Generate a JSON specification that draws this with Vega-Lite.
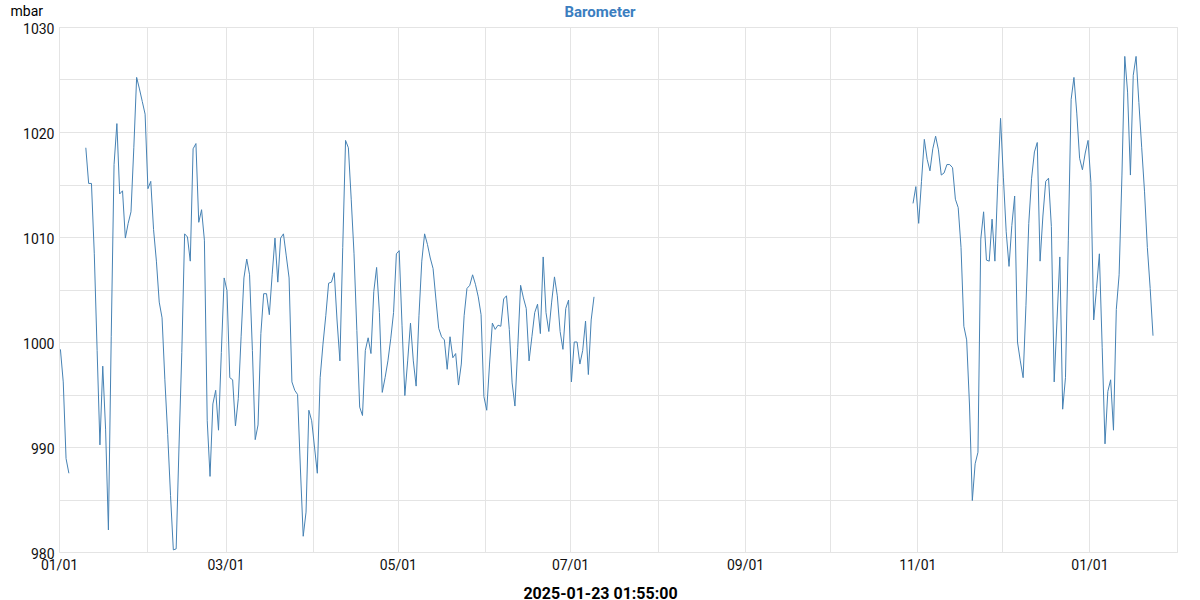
{
  "$schema": "https://vega.github.io/schema/vega-lite/v6.json",
  "autosize": "none",
  "width": 1118,
  "height": 525,
  "padding": {"left": 59, "top": 27, "right": 23, "bottom": 48},
  "background": "white",
  "title": {"text": "Barometer", "anchor": "middle", "frame": "group", "dx": -18, "dy": 25, "offset": 9, "font": "Roboto", "fontSize": 15, "fontWeight": "bold", "color": "#3b7ebf"},
  "config": {
    "view": {"stroke": "#e4e4e4"},
    "font": "Roboto"
  },
  "data": {"values": [
    {"t":"2025-01-01T12:00","v":999.3},{"t":"2025-01-02T12:00","v":996.2},{"t":"2025-01-03T12:00","v":988.9},{"t":"2025-01-04T12:00","v":987.5},
    {"t":"2025-01-07T12:00","v":null},
    {"t":"2025-01-10T12:00","v":1018.5},{"t":"2025-01-11T12:00","v":1015.1},{"t":"2025-01-12T12:00","v":1015.1},{"t":"2025-01-13T12:00","v":1008.4},{"t":"2025-01-14T12:00","v":999.2},{"t":"2025-01-15T12:00","v":990.2},{"t":"2025-01-16T12:00","v":997.7},{"t":"2025-01-17T12:00","v":991.7},{"t":"2025-01-18T12:00","v":982.1},{"t":"2025-01-19T12:00","v":1000.5},{"t":"2025-01-20T12:00","v":1016.9},{"t":"2025-01-21T12:00","v":1020.8},{"t":"2025-01-22T12:00","v":1014.1},{"t":"2025-01-23T12:00","v":1014.4},{"t":"2025-01-24T12:00","v":1009.9},{"t":"2025-01-25T12:00","v":1011.3},{"t":"2025-01-26T12:00","v":1012.4},{"t":"2025-01-27T12:00","v":1018.5},{"t":"2025-01-28T12:00","v":1025.2},{"t":"2025-01-29T12:00","v":1024.1},{"t":"2025-01-30T12:00","v":1022.9},{"t":"2025-01-31T12:00","v":1021.7},
    {"t":"2025-02-01T12:00","v":1014.6},{"t":"2025-02-02T12:00","v":1015.3},{"t":"2025-02-03T12:00","v":1010.7},{"t":"2025-02-04T12:00","v":1007.7},{"t":"2025-02-05T12:00","v":1003.8},{"t":"2025-02-06T12:00","v":1002.3},{"t":"2025-02-07T12:00","v":996.4},{"t":"2025-02-08T12:00","v":991.2},{"t":"2025-02-09T12:00","v":985.4},{"t":"2025-02-10T12:00","v":980.2},{"t":"2025-02-11T12:00","v":980.3},{"t":"2025-02-12T12:00","v":990.0},{"t":"2025-02-13T12:00","v":999.0},{"t":"2025-02-14T12:00","v":1010.3},{"t":"2025-02-15T12:00","v":1010.0},{"t":"2025-02-16T12:00","v":1007.7},{"t":"2025-02-17T12:00","v":1018.4},{"t":"2025-02-18T12:00","v":1018.9},{"t":"2025-02-19T12:00","v":1011.4},{"t":"2025-02-20T12:00","v":1012.6},{"t":"2025-02-21T12:00","v":1009.7},{"t":"2025-02-22T12:00","v":992.5},{"t":"2025-02-23T12:00","v":987.2},{"t":"2025-02-24T12:00","v":994.1},{"t":"2025-02-25T12:00","v":995.4},{"t":"2025-02-26T12:00","v":991.6},{"t":"2025-02-27T12:00","v":999.0},{"t":"2025-02-28T12:00","v":1006.1},
    {"t":"2025-03-01T12:00","v":1004.9},{"t":"2025-03-02T12:00","v":996.6},{"t":"2025-03-03T12:00","v":996.4},{"t":"2025-03-04T12:00","v":992.0},{"t":"2025-03-05T12:00","v":994.6},{"t":"2025-03-06T12:00","v":1000.5},{"t":"2025-03-07T12:00","v":1006.1},{"t":"2025-03-08T12:00","v":1007.9},{"t":"2025-03-09T12:00","v":1006.4},{"t":"2025-03-10T12:00","v":999.2},{"t":"2025-03-11T12:00","v":990.7},{"t":"2025-03-12T12:00","v":992.1},{"t":"2025-03-13T12:00","v":1000.8},{"t":"2025-03-14T12:00","v":1004.6},{"t":"2025-03-15T12:00","v":1004.6},{"t":"2025-03-16T12:00","v":1002.6},{"t":"2025-03-17T12:00","v":1006.4},{"t":"2025-03-18T12:00","v":1009.9},{"t":"2025-03-19T12:00","v":1005.7},{"t":"2025-03-20T12:00","v":1009.9},{"t":"2025-03-21T12:00","v":1010.3},{"t":"2025-03-22T12:00","v":1008.2},{"t":"2025-03-23T12:00","v":1006.1},{"t":"2025-03-24T12:00","v":996.2},{"t":"2025-03-25T12:00","v":995.4},{"t":"2025-03-26T12:00","v":995.0},{"t":"2025-03-27T12:00","v":988.0},{"t":"2025-03-28T12:00","v":981.5},{"t":"2025-03-29T12:00","v":983.8},{"t":"2025-03-30T12:00","v":993.5},{"t":"2025-03-31T12:00","v":992.5},
    {"t":"2025-04-01T12:00","v":990.0},{"t":"2025-04-02T12:00","v":987.5},{"t":"2025-04-03T12:00","v":996.6},{"t":"2025-04-04T12:00","v":999.8},{"t":"2025-04-05T12:00","v":1002.5},{"t":"2025-04-06T12:00","v":1005.6},{"t":"2025-04-07T12:00","v":1005.7},{"t":"2025-04-08T12:00","v":1006.6},{"t":"2025-04-09T12:00","v":1002.0},{"t":"2025-04-10T12:00","v":998.2},{"t":"2025-04-11T12:00","v":1009.0},{"t":"2025-04-12T12:00","v":1019.2},{"t":"2025-04-13T12:00","v":1018.5},{"t":"2025-04-14T12:00","v":1013.6},{"t":"2025-04-15T12:00","v":1008.4},{"t":"2025-04-16T12:00","v":1001.1},{"t":"2025-04-17T12:00","v":993.8},{"t":"2025-04-18T12:00","v":993.0},{"t":"2025-04-19T12:00","v":999.2},{"t":"2025-04-20T12:00","v":1000.4},{"t":"2025-04-21T12:00","v":998.9},{"t":"2025-04-22T12:00","v":1004.8},{"t":"2025-04-23T12:00","v":1007.1},{"t":"2025-04-24T12:00","v":1002.8},{"t":"2025-04-25T12:00","v":995.2},{"t":"2025-04-26T12:00","v":996.6},{"t":"2025-04-27T12:00","v":998.2},{"t":"2025-04-28T12:00","v":1000.3},{"t":"2025-04-29T12:00","v":1002.8},{"t":"2025-04-30T12:00","v":1008.4},
    {"t":"2025-05-01T12:00","v":1008.7},{"t":"2025-05-02T12:00","v":1001.6},{"t":"2025-05-03T12:00","v":994.9},{"t":"2025-05-04T12:00","v":998.2},{"t":"2025-05-05T12:00","v":1001.8},{"t":"2025-05-06T12:00","v":998.2},{"t":"2025-05-07T12:00","v":995.8},{"t":"2025-05-08T12:00","v":1002.5},{"t":"2025-05-09T12:00","v":1007.7},{"t":"2025-05-10T12:00","v":1010.3},{"t":"2025-05-11T12:00","v":1009.3},{"t":"2025-05-12T12:00","v":1008.0},{"t":"2025-05-13T12:00","v":1007.0},{"t":"2025-05-14T12:00","v":1004.1},{"t":"2025-05-15T12:00","v":1001.3},{"t":"2025-05-16T12:00","v":1000.5},{"t":"2025-05-17T12:00","v":1000.2},{"t":"2025-05-18T12:00","v":997.4},{"t":"2025-05-19T12:00","v":1000.5},{"t":"2025-05-20T12:00","v":998.5},{"t":"2025-05-21T12:00","v":998.9},{"t":"2025-05-22T12:00","v":995.9},{"t":"2025-05-23T12:00","v":997.9},{"t":"2025-05-24T12:00","v":1002.5},{"t":"2025-05-25T12:00","v":1005.1},{"t":"2025-05-26T12:00","v":1005.4},{"t":"2025-05-27T12:00","v":1006.4},{"t":"2025-05-28T12:00","v":1005.5},{"t":"2025-05-29T12:00","v":1004.3},{"t":"2025-05-30T12:00","v":1002.6},{"t":"2025-05-31T12:00","v":994.8},
    {"t":"2025-06-01T12:00","v":993.5},{"t":"2025-06-02T12:00","v":997.9},{"t":"2025-06-03T12:00","v":1001.8},{"t":"2025-06-04T12:00","v":1001.2},{"t":"2025-06-05T12:00","v":1001.6},{"t":"2025-06-06T12:00","v":1001.5},{"t":"2025-06-07T12:00","v":1004.1},{"t":"2025-06-08T12:00","v":1004.4},{"t":"2025-06-09T12:00","v":1001.2},{"t":"2025-06-10T12:00","v":996.1},{"t":"2025-06-11T12:00","v":993.9},{"t":"2025-06-12T12:00","v":999.5},{"t":"2025-06-13T12:00","v":1005.4},{"t":"2025-06-14T12:00","v":1004.2},{"t":"2025-06-15T12:00","v":1003.2},{"t":"2025-06-16T12:00","v":998.2},{"t":"2025-06-17T12:00","v":1000.5},{"t":"2025-06-18T12:00","v":1002.8},{"t":"2025-06-19T12:00","v":1003.6},{"t":"2025-06-20T12:00","v":1000.8},{"t":"2025-06-21T12:00","v":1008.1},{"t":"2025-06-22T12:00","v":1002.8},{"t":"2025-06-23T12:00","v":1001.0},{"t":"2025-06-24T12:00","v":1003.8},{"t":"2025-06-25T12:00","v":1006.2},{"t":"2025-06-26T12:00","v":1004.4},{"t":"2025-06-27T12:00","v":1001.0},{"t":"2025-06-28T12:00","v":999.3},{"t":"2025-06-29T12:00","v":1003.2},{"t":"2025-06-30T12:00","v":1004.0},
    {"t":"2025-07-01T12:00","v":996.2},{"t":"2025-07-02T12:00","v":1000.0},{"t":"2025-07-03T12:00","v":1000.0},{"t":"2025-07-04T12:00","v":997.9},{"t":"2025-07-05T12:00","v":999.2},{"t":"2025-07-06T12:00","v":1002.0},{"t":"2025-07-07T12:00","v":996.9},{"t":"2025-07-08T12:00","v":1002.1},{"t":"2025-07-09T12:00","v":1004.3},
    {"t":"2025-08-15T12:00","v":null},
    {"t":"2025-10-30T12:00","v":1013.2},{"t":"2025-10-31T12:00","v":1014.8},
    {"t":"2025-11-01T12:00","v":1011.3},{"t":"2025-11-02T12:00","v":1015.3},{"t":"2025-11-03T12:00","v":1019.3},{"t":"2025-11-04T12:00","v":1017.4},{"t":"2025-11-05T12:00","v":1016.3},{"t":"2025-11-06T12:00","v":1018.4},{"t":"2025-11-07T12:00","v":1019.6},{"t":"2025-11-08T12:00","v":1018.3},{"t":"2025-11-09T12:00","v":1015.9},{"t":"2025-11-10T12:00","v":1016.1},{"t":"2025-11-11T12:00","v":1016.9},{"t":"2025-11-12T12:00","v":1016.9},{"t":"2025-11-13T12:00","v":1016.6},{"t":"2025-11-14T12:00","v":1013.6},{"t":"2025-11-15T12:00","v":1012.8},{"t":"2025-11-16T12:00","v":1009.0},{"t":"2025-11-17T12:00","v":1001.5},{"t":"2025-11-18T12:00","v":1000.2},{"t":"2025-11-19T12:00","v":994.0},{"t":"2025-11-20T12:00","v":984.9},{"t":"2025-11-21T12:00","v":988.4},{"t":"2025-11-22T12:00","v":989.5},{"t":"2025-11-23T12:00","v":1009.8},{"t":"2025-11-24T12:00","v":1012.4},{"t":"2025-11-25T12:00","v":1007.8},{"t":"2025-11-26T12:00","v":1007.7},{"t":"2025-11-27T12:00","v":1011.7},{"t":"2025-11-28T12:00","v":1007.7},{"t":"2025-11-29T12:00","v":1015.1},{"t":"2025-11-30T12:00","v":1021.3},
    {"t":"2025-12-01T12:00","v":1015.7},{"t":"2025-12-02T12:00","v":1010.5},{"t":"2025-12-03T12:00","v":1007.2},{"t":"2025-12-04T12:00","v":1011.1},{"t":"2025-12-05T12:00","v":1013.9},{"t":"2025-12-06T12:00","v":1000.0},{"t":"2025-12-07T12:00","v":998.2},{"t":"2025-12-08T12:00","v":996.6},{"t":"2025-12-09T12:00","v":1003.5},{"t":"2025-12-10T12:00","v":1011.3},{"t":"2025-12-11T12:00","v":1015.6},{"t":"2025-12-12T12:00","v":1018.1},{"t":"2025-12-13T12:00","v":1019.0},{"t":"2025-12-14T12:00","v":1007.7},{"t":"2025-12-15T12:00","v":1012.0},{"t":"2025-12-16T12:00","v":1015.3},{"t":"2025-12-17T12:00","v":1015.6},{"t":"2025-12-18T12:00","v":1011.0},{"t":"2025-12-19T12:00","v":996.2},{"t":"2025-12-20T12:00","v":1002.1},{"t":"2025-12-21T12:00","v":1008.1},{"t":"2025-12-22T12:00","v":993.6},{"t":"2025-12-23T12:00","v":996.6},{"t":"2025-12-24T12:00","v":1009.7},{"t":"2025-12-25T12:00","v":1023.1},{"t":"2025-12-26T12:00","v":1025.2},{"t":"2025-12-27T12:00","v":1021.8},{"t":"2025-12-28T12:00","v":1017.5},{"t":"2025-12-29T12:00","v":1016.4},{"t":"2025-12-30T12:00","v":1018.0},{"t":"2025-12-31T12:00","v":1019.2},
    {"t":"2026-01-01T12:00","v":1015.2},{"t":"2026-01-02T12:00","v":1002.1},{"t":"2026-01-03T12:00","v":1005.1},{"t":"2026-01-04T12:00","v":1008.4},{"t":"2026-01-05T12:00","v":999.5},{"t":"2026-01-06T12:00","v":990.3},{"t":"2026-01-07T12:00","v":995.3},{"t":"2026-01-08T12:00","v":996.4},{"t":"2026-01-09T12:00","v":991.6},{"t":"2026-01-10T12:00","v":1003.1},{"t":"2026-01-11T12:00","v":1006.4},{"t":"2026-01-12T12:00","v":1015.9},{"t":"2026-01-13T12:00","v":1027.2},{"t":"2026-01-14T12:00","v":1023.8},{"t":"2026-01-15T12:00","v":1015.9},{"t":"2026-01-16T12:00","v":1025.4},{"t":"2026-01-17T12:00","v":1027.2},{"t":"2026-01-18T12:00","v":1022.8},{"t":"2026-01-19T12:00","v":1018.5},{"t":"2026-01-20T12:00","v":1014.3},{"t":"2026-01-21T12:00","v":1009.0},{"t":"2026-01-22T12:00","v":1005.1},{"t":"2026-01-23T12:00","v":1000.6}
  ]},
  "mark": {"type": "line", "color": "#4682b4", "strokeWidth": 1, "clip": true, "invalid": "break-paths-show-domains"},
  "encoding": {
    "x": {
      "field": "t", "type": "temporal",
      "scale": {"domain": [{"year": 2025, "month": 1, "date": 1}, {"year": 2026, "month": 2, "date": 1}], "nice": false},
      "axis": {
        "title": "2025-01-23 01:55:00",
        "titleFont": "Roboto", "titleFontSize": 16, "titleFontWeight": "bold", "titleColor": "#000000",
        "titleX": 541, "titleY": 46, "titleAlign": "center", "titleAnchor": null, "titleBaseline": "alphabetic",
        "tickCount": {"interval": "month", "step": 1},
        "format": "%m/%d",
        "labelExpr": "month(datum.value) % 2 == 0 ? timeFormat(datum.value, '%m/%d') : ''",
        "labelFlush": false, "labelOverlap": false,
        "labelFont": "Roboto", "labelFontSize": 14, "labelColor": "#111111", "labelPadding": 6,
        "ticks": false, "tickSize": 0, "domain": false,
        "grid": true, "gridColor": "#e4e4e4", "gridWidth": 1
      }
    },
    "y": {
      "field": "v", "type": "quantitative",
      "scale": {"domain": [980, 1030], "zero": false, "nice": false},
      "axis": {
        "title": "mbar",
        "titleFont": "Roboto", "titleFontSize": 14, "titleFontWeight": "normal", "titleColor": "#000000",
        "titleAngle": 0, "titleAlign": "left", "titleBaseline": "alphabetic", "titleAnchor": null,
        "titleX": -49, "titleY": -12,
        "values": [980, 985, 990, 995, 1000, 1005, 1010, 1015, 1020, 1025, 1030],
        "format": "d",
        "labelExpr": "datum.value % 10 == 0 ? datum.label : ''",
        "labelFont": "Roboto", "labelFontSize": 14, "labelColor": "#111111", "labelPadding": 5, "labelOffset": 2,
        "labelOverlap": false, "labelFlush": false,
        "ticks": false, "tickSize": 0, "domain": false,
        "grid": true, "gridColor": "#e4e4e4", "gridWidth": 1
      }
    }
  }
}
